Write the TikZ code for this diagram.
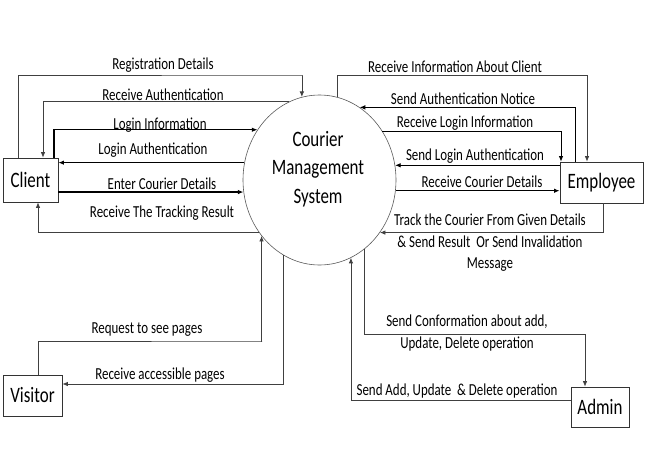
\documentclass[tikz,border=0pt]{standalone}
\usepackage{fontspec}
\setmainfont{Carlito}[FakeStretch=0.77]
\usetikzlibrary{arrows.meta,shapes.geometric}
\begin{document}
\begin{tikzpicture}[x=1pt,y=-1pt,
  ent/.style={draw=black!80, line width=0.8pt, inner sep=0pt, font=\fontsize{22}{24}\selectfont},
  lbl/.style={inner sep=0pt, align=center, font=\fontsize{16.8}{21.5}\selectfont, text=black},
  flow/.style={draw=black!75, line width=0.7pt, -{Latex[length=5.5pt,width=4.5pt]}},
  flowb/.style={flow, draw=black, line width=1.1pt},
]
\useasboundingbox (0,0) rectangle (649,461);
% process
\node[ellipse, draw=black!65, line width=0.6pt, minimum width=153pt, minimum height=170pt, inner sep=0pt] (cms) at (319.5,180) {};
\node[inner sep=0pt, align=center, font=\fontsize{22}{28.5}\selectfont] (cmst) at (318,169) {Courier\\Management\\System};
% entities
\node[ent, minimum width=55pt, minimum height=44pt] (client) at (30.5,180) {Client};
\node[ent, minimum width=83pt, minimum height=41pt] (employee) at (601.5,182.5) {Employee};
\node[ent, minimum width=59pt, minimum height=41pt] (visitor) at (32.5,395.5) {Visitor};
\node[ent, minimum width=58pt, minimum height=40pt] (admin) at (600,407) {Admin};
% client flows
\draw[flow] ([xshift=-12.5pt]client.north) |- (302,75) -| (cms.102);
\draw[flow] (cms.111.3) -| ([xshift=12.5pt]client.north);
\draw[flowb] ([xshift=23.5pt]client.north) |- (cms.141.1);
\draw[flowb] (cms.167.2) -- (cms.167.2 -| client.east);
\draw[flowb] (cms.189.8 -| client.east) -- (cms.189.8);
\draw[flow] (cms.221.5) -| ([xshift=7.5pt]client.south);
% employee flows
\draw[flow] (cms.78) |- (587,75) -- ([xshift=-14.5pt]employee.north);
\draw[flowb, line width=0.8pt] ([xshift=-26.5pt]employee.north) |- (cms.61.8);
\draw[flowb, line width=0.8pt] (cms.38.1) -| ([xshift=-40.5pt]employee.north);
\draw[flowb, line width=0.8pt] (cms.11.3 -| employee.west) -- (cms.11.3);
\draw[flowb] (cms.352.5) -- (cms.352.5 -| employee.west);
\draw[flow] ([xshift=1.5pt]employee.south) |- (cms.319.3);
% visitor flows
\draw[flow] ([xshift=5.5pt]visitor.north) |- (262,341) -| (cms.224.3);
\draw[flow] (cms.244) |- ([yshift=11.5pt]visitor.east);
% admin flows
\draw[flow] (cms.303.7) |- (585,334) -- ([xshift=-15pt]admin.north);
\draw[flow] ([yshift=7pt]admin.west) -| (cms.292.1);
% labels
\node[lbl] (l1) at (163,65) {Registration Details};
\node[lbl] (l2) at (163,95) {Receive Authentication};
\node[lbl] (l3) at (160,125) {Login Information};
\node[lbl] (l4) at (153,150) {Login Authentication};
\node[lbl] (l5) at (162,184) {Enter Courier Details};
\node[lbl] (l6) at (162,213) {Receive The Tracking Result};
\node[lbl] (l7) at (455,67) {Receive Information About Client};
\node[lbl] (l8) at (463,99) {Send Authentication Notice};
\node[lbl] (l9) at (465,123) {Receive Login Information};
\node[lbl] (l10) at (475,156) {Send Login Authentication};
\node[lbl] (l11) at (482,182) {Receive Courier Details};
\node[lbl] (l12) at (490,243) {Track the Courier From Given Details\\\&~Send Result~ Or Send Invalidation\\Message};
\node[lbl] (l13) at (147,330) {Request to see pages};
\node[lbl] (l14) at (160,375) {Receive accessible pages};
\node[lbl, font=\fontsize{16.8}{22}\selectfont] (l15) at (467,333) {Send Conformation about add,\\Update, Delete operation};
\node[lbl] (l16) at (457,391) {Send Add, Update~ \& Delete operation};
\end{tikzpicture}
\end{document}
